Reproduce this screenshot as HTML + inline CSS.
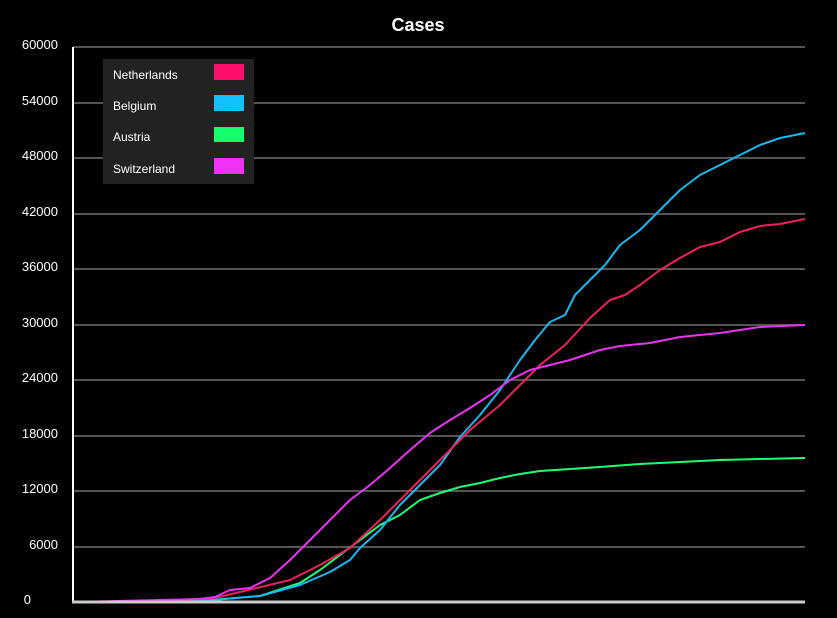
<!DOCTYPE html>
<html><head><style>
body{margin:0;background:#000;width:837px;height:613px;overflow:hidden;font-family:"Liberation Sans",Arial,sans-serif}
</style></head><body>
<svg width="837" height="613" xmlns="http://www.w3.org/2000/svg" font-family="Liberation Sans, Arial, sans-serif">
<rect width="837" height="613" fill="#000"/>
<text x="418" y="31" fill="#fff" font-size="18" font-weight="bold" text-anchor="middle">Cases</text>
<g stroke="#555" stroke-width="2">
<line x1="73" x2="805" y1="47" y2="47"/><line x1="73" x2="805" y1="103" y2="103"/>
<line x1="73" x2="805" y1="158" y2="158"/><line x1="73" x2="805" y1="214" y2="214"/>
<line x1="73" x2="805" y1="269" y2="269"/><line x1="73" x2="805" y1="325" y2="325"/>
<line x1="73" x2="805" y1="380" y2="380"/><line x1="73" x2="805" y1="436" y2="436"/>
<line x1="73" x2="805" y1="491" y2="491"/><line x1="73" x2="805" y1="547" y2="547"/>
</g>
<g fill="#fff" font-size="13" text-anchor="end">
<text x="58" y="49">60000</text><text x="58" y="105">54000</text><text x="58" y="160">48000</text>
<text x="58" y="216">42000</text><text x="58" y="271">36000</text><text x="58" y="327">30000</text>
<text x="58" y="382">24000</text><text x="58" y="438">18000</text><text x="58" y="493">12000</text>
<text x="58" y="549">6000</text><text x="31" y="604">0</text>
</g>
<g fill="none" stroke-width="2" stroke-linejoin="round">
<polyline stroke="#1aff73" points="73,602 200,601 260,596 300,583 320,570 340,555 360,540 380,525 400,515 420,500 440,493 460,487 480,483 500,478 520,474 540,471 570,469 600,467 640,464 680,462 720,460 760,459 805,458"/>
<polyline stroke="#1ab8f0" points="73,602 200,601 260,596 300,585 330,572 350,560 360,548 380,530 400,505 420,485 440,465 460,437 480,415 500,390 520,360 535,340 550,322 565,315 575,295 590,280 605,265 620,245 640,230 665,205 680,190 700,175 720,165 740,155 760,145 780,138 805,133"/>
<polyline stroke="#ee2060" points="73,602 140,602 215,598 240,592 290,580 320,565 350,548 380,520 410,490 440,460 470,430 500,405 520,385 540,365 565,345 590,318 610,300 625,295 640,285 660,270 680,258 700,247 720,242 740,232 760,226 780,224 805,219"/>
<polyline stroke="#e833f0" points="73,602 200,599 215,597 230,590 250,588 270,578 290,560 310,540 330,520 350,500 370,485 390,468 410,450 430,433 450,420 470,408 490,395 510,380 530,370 550,365 570,360 600,350 620,346 650,343 680,337 720,333 760,327 805,325"/>
</g>
<line x1="73" y1="47" x2="73" y2="603" stroke="#fff" stroke-width="2"/>
<line x1="72" y1="602" x2="805" y2="602" stroke="#ccc" stroke-width="3"/>
<rect x="103" y="59" width="151" height="125" fill="#222"/>
<g fill="#fff" font-size="12">
<text x="113" y="79">Netherlands</text><text x="113" y="110">Belgium</text>
<text x="113" y="141">Austria</text><text x="113" y="173">Switzerland</text>
</g>
<rect x="214" y="64" width="30" height="16" fill="#ff0f6b"/>
<rect x="214" y="95" width="30" height="16" fill="#12c0ff"/>
<rect x="214" y="127" width="30" height="15" fill="#12ff6e"/>
<rect x="214" y="158" width="30" height="16" fill="#ef33f5"/>
</svg>
</body></html>
